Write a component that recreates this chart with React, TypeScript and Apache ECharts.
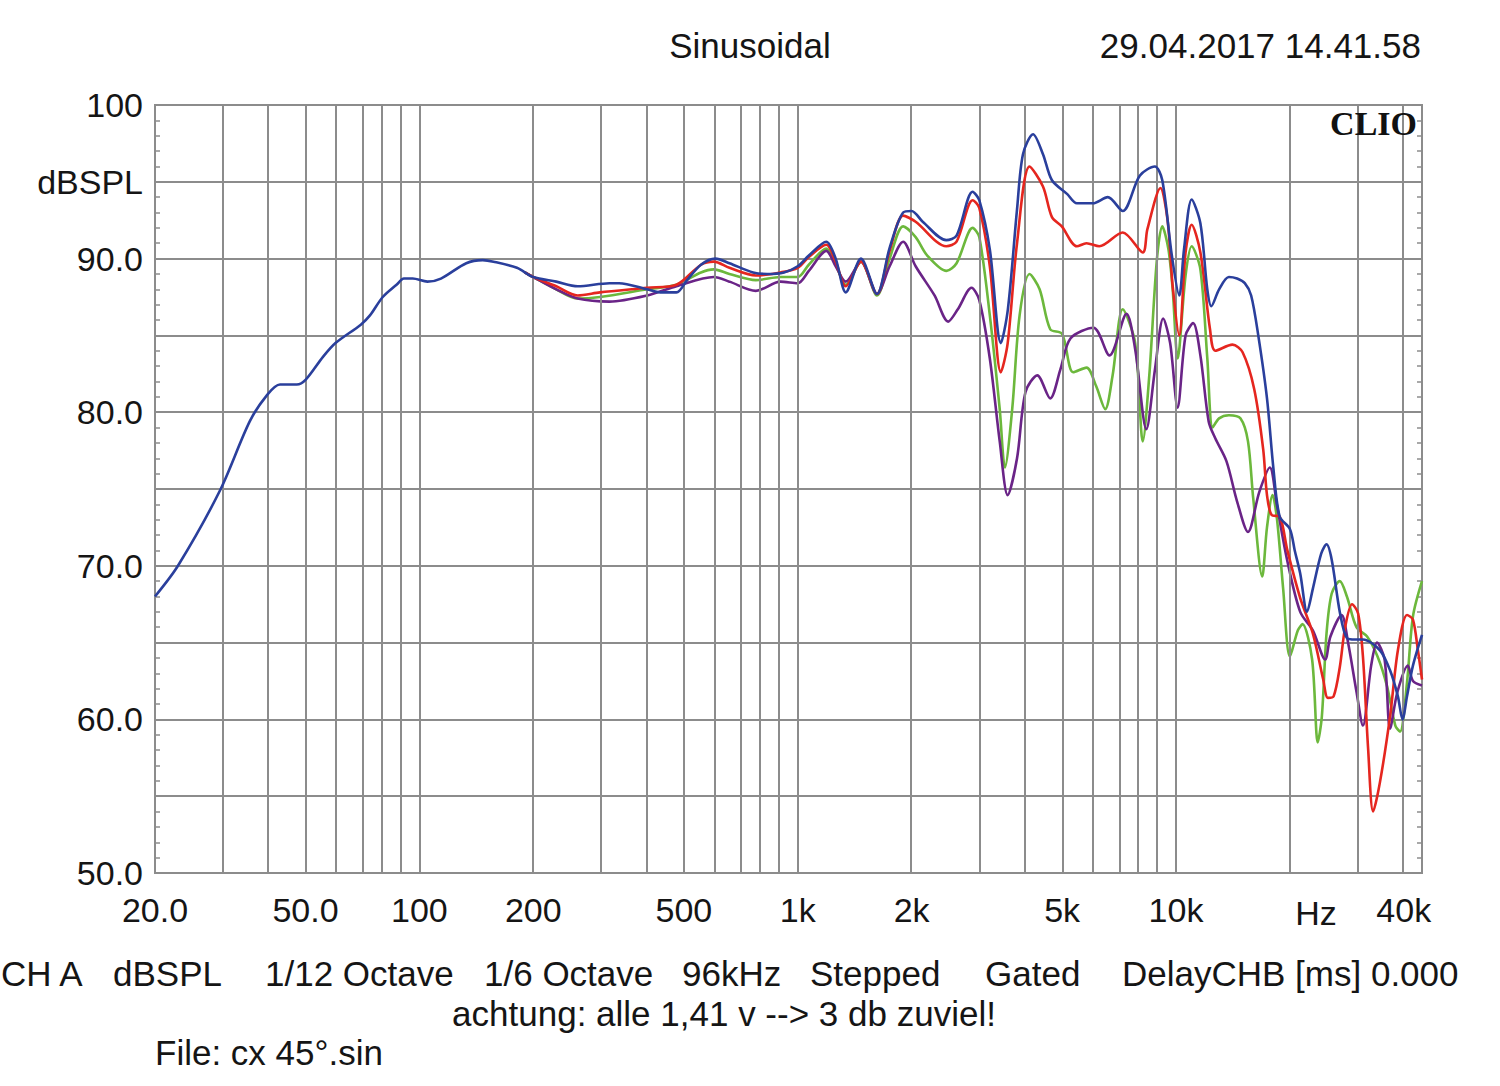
import React, { useEffect, useRef } from "react";
import * as echarts from "echarts";

// ---------- data (frequency in Hz, level in dBSPL) ----------
const BLUE_F = [20, 23, 29.7, 35.6, 39.5, 42.8, 47.4, 50, 55.6, 60, 70, 74, 80, 87, 91, 96, 105, 114, 133, 147, 157, 181, 200, 230, 262, 318, 337, 400, 433, 478, 510, 555, 606, 660, 762, 830, 920, 1000, 1070, 1190, 1260, 1340, 1470, 1620, 1750, 1900, 2000, 2140, 2470, 2630, 2900, 3020, 3220, 3444, 3594, 3800, 3940, 4190, 4450, 4700, 5160, 5470, 6030, 6600, 7230, 8020, 8790, 9200, 9750, 10200, 10500, 11000, 11600, 12100, 12400, 13000, 13800, 14500, 15200, 15800, 16500, 17400, 18100, 18800, 20000, 20600, 21300, 22200, 23000, 24200, 25000, 25800, 27100, 28300, 29800, 31200, 34600, 36800, 38600, 39700, 40800, 42300, 44700];
const BLUE_DB = [68.0, 70.0, 74.9, 79.4, 81.1, 81.8, 81.8, 82.1, 83.6, 84.5, 85.7, 86.3, 87.5, 88.3, 88.7, 88.7, 88.5, 88.7, 89.7, 89.9, 89.8, 89.4, 88.8, 88.5, 88.2, 88.4, 88.4, 88.0, 87.8, 87.8, 88.6, 89.6, 90.0, 89.7, 89.1, 89.0, 89.1, 89.5, 90.2, 91.1, 90.0, 87.8, 90.0, 87.7, 90.7, 93.0, 93.1, 92.4, 91.2, 91.5, 94.35, 93.8, 90.6, 84.5, 86.7, 93.2, 96.8, 98.1, 96.8, 95.1, 94.2, 93.6, 93.6, 94.0, 93.1, 95.4, 96.0, 95.1, 90.2, 87.6, 90.6, 93.85, 92.3, 88.0, 86.9, 88.0, 88.8, 88.7, 88.4, 87.6, 85.0, 80.9, 76.3, 73.2, 72.4, 71.0, 69.5, 67.0, 68.5, 70.8, 71.4, 70.4, 67.0, 65.3, 65.2, 65.2, 64.5, 63.2, 61.5, 60.0, 61.5, 63.5, 65.5];

const RED_F = [190, 200, 230, 262, 300, 400, 478, 555, 600, 660, 775, 900, 1000, 1070, 1190, 1260, 1340, 1470, 1620, 1750, 1900, 2050, 2470, 2630, 2900, 3020, 3220, 3444, 3590, 3800, 4100, 4450, 4700, 4990, 5470, 5800, 6270, 7230, 8170, 8400, 9100, 9500, 9800, 10200, 10600, 11000, 11600, 12300, 12700, 14100, 15000, 16100, 17000, 17400, 17900, 18800, 19700, 21300, 23000, 24500, 25200, 26100, 27100, 28000, 29200, 30300, 31200, 32200, 33200, 34600, 36800, 38600, 40800, 42300, 43600, 44700];
const RED_DB = [89.1, 88.8, 88.2, 87.6, 87.8, 88.1, 88.3, 89.6, 89.8, 89.4, 88.9, 89.1, 89.4, 90.1, 90.9, 89.8, 88.2, 89.8, 87.7, 90.5, 92.8, 92.4, 90.8, 91.1, 93.8, 93.3, 89.5, 82.6, 84.5, 91.0, 96.0, 94.7, 92.7, 92.1, 90.8, 91.0, 90.8, 91.7, 90.4, 91.9, 94.6, 92.5, 88.2, 85.0, 90.4, 92.2, 90.4, 85.4, 84.0, 84.4, 83.9, 81.5, 77.6, 74.6, 73.3, 73.2, 71.0, 67.9, 65.6, 62.6, 61.4, 61.5, 63.4, 66.0, 67.5, 66.9, 64.1, 58.1, 54.0, 55.9, 60.2, 64.5, 66.8, 66.5, 64.5, 62.6];

const GREEN_F = [190, 200, 230, 262, 300, 400, 478, 555, 600, 660, 775, 900, 1000, 1070, 1190, 1260, 1340, 1470, 1620, 1750, 1900, 2050, 2200, 2473, 2630, 2900, 3020, 3220, 3420, 3530, 3690, 3860, 4100, 4360, 4650, 5000, 5350, 5800, 6150, 6500, 6800, 7230, 7800, 8170, 8500, 8900, 9200, 9550, 9800, 10100, 10600, 11000, 11600, 12100, 12500, 13000, 13800, 14800, 15500, 16000, 16900, 17400, 18000, 18500, 19200, 20000, 21000, 21600, 22900, 23700, 24300, 25000, 25800, 27100, 28300, 30000, 32000, 34100, 36100, 38000, 39100, 40800, 42300, 44700];
const GREEN_DB = [89.1, 88.8, 88.0, 87.4, 87.5, 88.0, 88.3, 89.1, 89.3, 89.0, 88.6, 88.8, 88.8, 89.6, 90.65, 89.6, 88.3, 89.8, 87.6, 90.0, 92.1, 91.4, 90.2, 89.2, 89.7, 92.0, 91.4, 86.3, 80.2, 76.4, 80.2, 86.3, 89.0, 88.0, 85.4, 85.1, 82.6, 82.9, 81.7, 80.2, 82.4, 86.7, 84.5, 78.1, 82.4, 89.9, 92.1, 90.6, 88.0, 83.5, 88.9, 90.8, 89.3, 83.5, 79.0, 79.6, 79.8, 79.6, 78.1, 74.4, 69.3, 72.5, 74.6, 73.0, 68.5, 64.1, 65.8, 66.2, 63.9, 58.5, 60.2, 65.6, 68.2, 69.0, 68.0, 66.0, 65.4, 64.1, 62.2, 59.6, 59.2, 62.4, 66.7, 69.0];

const PURPLE_F = [190, 200, 230, 262, 318, 400, 478, 600, 660, 775, 900, 1000, 1070, 1190, 1260, 1340, 1470, 1620, 1750, 1900, 2050, 2300, 2500, 2650, 2880, 3020, 3220, 3420, 3590, 3800, 4000, 4300, 4650, 4950, 5260, 6050, 6670, 7400, 7800, 8350, 8800, 9250, 9650, 10100, 10600, 11100, 11600, 12200, 12700, 13600, 14500, 15500, 16600, 17700, 18500, 19700, 21300, 23000, 24800, 25600, 27400, 28500, 30000, 31200, 32800, 34000, 35600, 36800, 38500, 41000, 42300, 44700];
const PURPLE_DB = [89.1, 88.8, 88.0, 87.4, 87.2, 87.6, 88.2, 88.8, 88.5, 87.9, 88.5, 88.4, 89.2, 90.5, 89.5, 88.5, 89.8, 87.7, 89.5, 91.1, 89.5, 87.6, 85.9, 86.7, 88.1, 87.3, 83.5, 78.1, 74.6, 77.0, 81.3, 82.4, 80.9, 82.8, 84.8, 85.5, 83.7, 86.4, 84.1, 78.9, 82.8, 86.1, 84.5, 80.3, 85.0, 85.8, 83.7, 79.4, 78.3, 76.8, 74.2, 72.2, 74.8, 76.4, 73.9, 70.3, 67.0, 65.8, 63.9, 65.4, 66.8, 65.0, 61.8, 59.6, 63.5, 65.0, 63.9, 59.4, 61.8, 63.5, 62.5, 62.2];

const X_LABEL_FREQS = [20, 50, 100, 200, 500, 1000, 2000, 5000, 10000, 40000];
const X_LABEL_TEXTS = ["20.0", "50.0", "100", "200", "500", "1k", "2k", "5k", "10k", "40k"];
const GRID_DECADES = [10, 100, 1000, 10000];
const GRID_STEPS = [1, 2, 3, 4, 5, 6, 7, 8, 9];
const F_MIN = 20;
const F_MAX = 44700;

const BOTTOM_ITEMS: [string, number][] = [
  ["CH A", 1],
  ["dBSPL", 113],
  ["1/12 Octave", 265],
  ["1/6 Octave", 484],
  ["96kHz", 682],
  ["Stepped", 810],
  ["Gated", 985],
  ["DelayCHB [ms] 0.000", 1122],
];

const FONT = '"Liberation Sans", Arial, sans-serif';
const GRID_COLOR = "#8c8c8c";
const TEXT_COLOR = "#151515";
const TXT = 35;

const toPairs = (f: number[], d: number[]) => f.map((v, i) => [Math.log10(v), d[i]]);

export default function App() {
  const ref = useRef<HTMLDivElement>(null);

  useEffect(() => {
    if (!ref.current) return;
    const chart = echarts.init(ref.current, null, { renderer: "svg" });

    const gridFreqs: number[] = [];
    GRID_DECADES.forEach((d) =>
      GRID_STEPS.forEach((s) => {
        const f = d * s;
        if (f > F_MIN && f < F_MAX) gridFreqs.push(f);
      })
    );
    const labelLogs = X_LABEL_FREQS.map((f) => Math.log10(f));

    const lineSeries = (name: string, color: string, f: number[], d: number[], z: number) => ({
      name,
      type: "line",
      data: toPairs(f, d),
      showSymbol: false,
      symbol: "none",
      smooth: 0.3,
      z,
      lineStyle: { color, width: 2.6 },
      silent: true,
    });

    const yAxisBase = {
      type: "value",
      min: 50,
      max: 100,
      interval: 5,
      axisLine: { show: true, lineStyle: { color: GRID_COLOR, width: 2 } },
      axisTick: { show: true, inside: true, length: 6, lineStyle: { color: GRID_COLOR, width: 1.5 } },
      minorTick: { show: true, splitNumber: 5, length: 5, lineStyle: { color: GRID_COLOR, width: 1.5 } },
    };

    const textEl = (text: string, x: number, y: number, align: string, extra: any = {}) => ({
      type: "text",
      x,
      y,
      z: 10,
      style: { text, fontSize: TXT, fontFamily: FONT, fill: TEXT_COLOR, align, verticalAlign: "middle", ...extra },
    });

    const option: any = {
      animation: false,
      backgroundColor: "#ffffff",
      grid: {
        left: 155,
        top: 105,
        width: 1267,
        height: 768,
        show: true,
        borderColor: GRID_COLOR,
        borderWidth: 2,
        containLabel: false,
      },
      xAxis: {
        type: "value",
        min: Math.log10(F_MIN),
        max: Math.log10(F_MAX),
        axisLine: { show: true, lineStyle: { color: GRID_COLOR, width: 2 } },
        axisTick: { show: false },
        splitLine: { show: false },
        axisLabel: {
          show: true,
          customValues: labelLogs,
          margin: 20,
          fontSize: 34,
          fontFamily: FONT,
          color: TEXT_COLOR,
          showMinLabel: true,
          showMaxLabel: true,
          formatter: (v: number) => {
            const i = labelLogs.findIndex((l) => Math.abs(l - v) < 1e-6);
            return i >= 0 ? X_LABEL_TEXTS[i] : "";
          },
        },
      },
      yAxis: [
        {
          ...yAxisBase,
          position: "left",
          splitLine: { show: true, lineStyle: { color: GRID_COLOR, width: 2 } },
          axisLabel: {
            margin: 12,
            fontSize: 34,
            fontFamily: FONT,
            color: TEXT_COLOR,
            formatter: (v: number) => {
              if (v === 100) return "100";
              if (v === 95) return "dBSPL";
              if (v % 10 === 0) return v.toFixed(1);
              return "";
            },
          },
        },
        {
          ...yAxisBase,
          position: "right",
          splitLine: { show: false },
          axisLabel: { show: false },
        },
      ],
      series: [
        {
          name: "grid",
          type: "line",
          data: [],
          z: 1,
          silent: true,
          markLine: {
            silent: true,
            symbol: ["none", "none"],
            label: { show: false },
            animation: false,
            lineStyle: { color: GRID_COLOR, width: 2, type: "solid" },
            emphasis: { disabled: true },
            data: gridFreqs.map((f) => ({ xAxis: Math.log10(f) })),
          },
        },
        lineSeries("green", "#6cb83c", GREEN_F, GREEN_DB, 3),
        lineSeries("purple", "#6a2487", PURPLE_F, PURPLE_DB, 4),
        lineSeries("red", "#e5261f", RED_F, RED_DB, 5),
        lineSeries("blue", "#2a3f9c", BLUE_F, BLUE_DB, 6),
      ],
      graphic: [
        textEl("Sinusoidal", 750, 45, "center"),
        textEl("29.04.2017 14.41.58", 1421, 45, "right"),
        textEl("CLIO", 1417, 123, "right", {
          fontSize: 34,
          fontWeight: "bold",
          fontFamily: '"Liberation Serif", "Times New Roman", serif',
          fill: "#111",
        }),
        textEl("Hz", 1316, 913, "center", { fontSize: 34 }),
        ...BOTTOM_ITEMS.map(([t, x]) => textEl(t, x, 973, "left")),
        textEl("achtung: alle 1,41 v --> 3 db zuviel!", 724, 1013, "center"),
        textEl("File: cx 45°.sin", 155, 1052, "left"),
      ],
    };

    chart.setOption(option);
    return () => chart.dispose();
  }, []);

  return (
    <div
      ref={ref}
      style={{ position: "absolute", left: 0, top: 0, width: 1500, height: 1086, background: "#fff" }}
    />
  );
}
